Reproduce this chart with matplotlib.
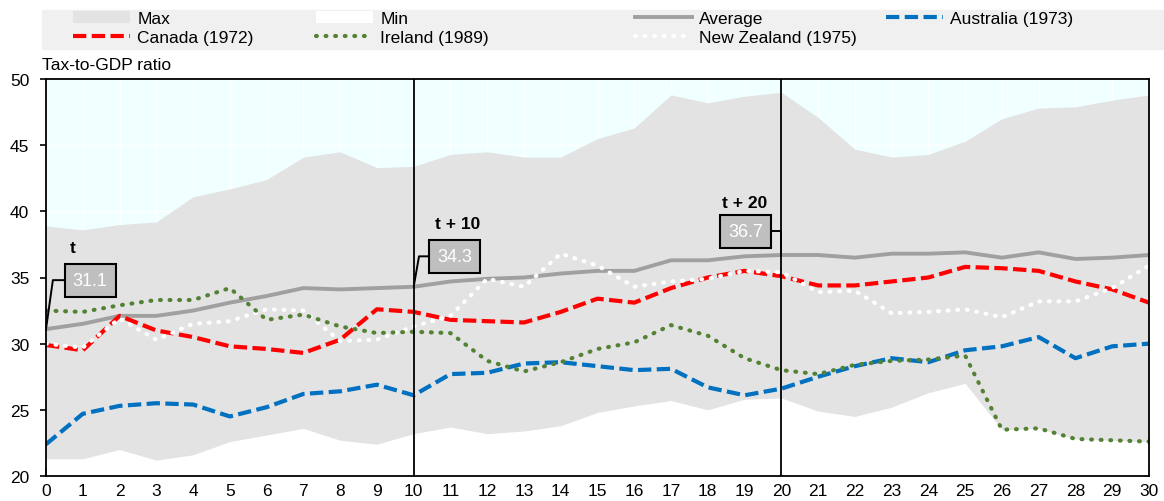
import matplotlib
matplotlib.use('Agg')
import matplotlib.pyplot as plt
from matplotlib import font_manager
from matplotlib.patches import Rectangle

# pick a narrow font if there is one
try:
    font_manager.findfont('Liberation Sans Narrow', fallback_to_default=False)
    family = 'Liberation Sans Narrow'
    fs = 14
except Exception:
    family = 'Liberation Sans'
    fs = 12.5
plt.rcParams['font.family'] = [family, 'DejaVu Sans']

# data
years = list(range(31))
max_vals = [38.9, 38.6, 39.0, 39.2, 41.1, 41.7, 42.4, 44.1, 44.5, 43.3, 43.4,
            44.3, 44.5, 44.1, 44.1, 45.5, 46.3, 48.8, 48.2, 48.7, 49.0,
            47.1, 44.7, 44.1, 44.3, 45.3, 47.0, 47.8, 47.9, 48.4, 48.8]
min_vals = [21.3, 21.3, 22.0, 21.2, 21.6, 22.6, 23.1, 23.6, 22.7, 22.4, 23.2,
            23.7, 23.2, 23.4, 23.8, 24.8, 25.3, 25.7, 25.0, 25.8, 25.9,
            24.9, 24.5, 25.2, 26.3, 27.0, 23.5, 23.6, 22.8, 22.7, 22.6]
average = [31.1, 31.5, 32.1, 32.1, 32.5, 33.1, 33.6, 34.2, 34.1, 34.2, 34.3,
           34.7, 34.9, 35.0, 35.3, 35.5, 35.5, 36.3, 36.3, 36.6, 36.7,
           36.7, 36.5, 36.8, 36.8, 36.9, 36.5, 36.9, 36.4, 36.5, 36.7]
australia = [22.4, 24.7, 25.3, 25.5, 25.4, 24.5, 25.2, 26.2, 26.4, 26.9, 26.1,
             27.7, 27.8, 28.5, 28.6, 28.3, 28.0, 28.1, 26.7, 26.1, 26.6,
             27.5, 28.3, 28.9, 28.6, 29.5, 29.8, 30.5, 28.9, 29.8, 30.0]
canada = [29.9, 29.5, 32.1, 31.0, 30.5, 29.8, 29.6, 29.3, 30.3, 32.6, 32.4,
          31.8, 31.7, 31.6, 32.4, 33.4, 33.1, 34.2, 35.0, 35.5, 35.1,
          34.4, 34.4, 34.7, 35.0, 35.8, 35.7, 35.5, 34.7, 34.1, 33.1]
ireland = [32.5, 32.4, 32.9, 33.3, 33.3, 34.2, 31.8, 32.2, 31.3, 30.8, 30.9,
           30.8, 28.7, 27.9, 28.6, 29.6, 30.1, 31.4, 30.6, 28.9, 28.0,
           27.7, 28.4, 28.7, 28.8, 29.1, 23.5, 23.6, 22.8, 22.7, 22.6]
new_zealand = [30.0, 29.7, 31.9, 30.3, 31.5, 31.7, 32.6, 32.5, 30.2, 30.3, 31.3,
               32.1, 34.9, 34.3, 36.8, 35.9, 34.3, 34.7, 34.9, 35.5, 35.4,
               33.9, 34.0, 32.3, 32.4, 32.6, 32.0, 33.2, 33.2, 34.2, 35.9]
marks = [0, 10, 20]
mark_labels = ['t', 't + 10', 't + 20']

W, H = 1164, 502
fig = plt.figure(figsize=(W / 100, H / 100), dpi=100)
ax = fig.add_axes([46 / W, 25 / H, (1149 - 46) / W, (477 - 80) / H])
ax.set_facecolor('#f0ffff')
ax.set_xlim(0, 30)
ax.set_ylim(20, 50)

h_max = ax.fill_between(years, max_vals, 20, color='#e3e3e3', lw=0, label='Max', zorder=1)
h_min = ax.fill_between(years, min_vals, 20, color='white', lw=0, label='Min', zorder=1.1)

dot = (0.2, 2.1)
h_avg, = ax.plot(years, average, color='#a0a0a0', lw=2.8, label='Average', zorder=3)
h_can, = ax.plot(years, canada, color='#ff0000', lw=3, dashes=(3.2, 1.3), label='Canada (1972)', zorder=3)
h_aus, = ax.plot(years, australia, color='#0070c0', lw=3, dashes=(3.2, 1.3), label='Australia (1973)', zorder=3)
h_ire, = ax.plot(years, ireland, color='#548235', lw=3, dashes=dot, dash_capstyle='round',
                 label='Ireland (1989)', zorder=3.2)
h_nz, = ax.plot(years, new_zealand, color='white', lw=3, dashes=dot, dash_capstyle='round',
                label='New Zealand (1975)', zorder=3.1)

for m in marks[1:]:
    ax.axvline(m, color='black', lw=1.3, zorder=4)

ax.set_axisbelow(True)
ax.grid(True, color='white', lw=1)
ax.set_xticks(years)
ax.set_yticks(range(20, 51, 5))
ax.tick_params(axis='x', direction='in', length=6, width=1.2, pad=5, labelsize=fs)
ax.tick_params(axis='y', direction='out', length=4, width=1.2, pad=8, labelsize=fs)
for s in ax.spines.values():
    s.set_linewidth(1.3)
    s.set_zorder(5)

# callouts for t, t+10, t+20
box_pos = [(1.2, 34.8), (11.12, 36.6), (19.02, 38.5)]
label_pos = [(0.73, 37.3), (11.2, 39.1), (19.0, 40.7)]
leader_angle = [82, 80, 90]
for m, lab, bp, lp, ang in zip(marks, mark_labels, box_pos, label_pos, leader_angle):
    ax.annotate(f'{average[m]:.1f}', xy=(m, average[m]), xytext=bp, textcoords='data',
                ha='center', va='center', color='white', fontsize=fs + 0.5, zorder=6,
                bbox=dict(boxstyle='square,pad=0.45', fc='#bfbfbf', ec='black', lw=1.5),
                arrowprops=dict(arrowstyle='-', color='black', lw=1.4, shrinkA=0, shrinkB=0,
                                connectionstyle=f'angle,angleA=0,angleB={ang},rad=0'))
    ax.text(lp[0], lp[1], lab, ha='center', va='center', fontsize=fs, fontweight='bold', zorder=6)

fig.text(42 / W, 1 - 66 / H, 'Tax-to-GDP ratio', ha='left', va='center', fontsize=fs)

# legend band + four columns
fig.patches.append(Rectangle((42 / W, 1 - 50 / H), 1 - 42 / W, 39 / H,
                             transform=fig.transFigure, color='#f0f0f0', zorder=0))
columns = [([h_max, h_can], 73), ([h_min, h_ire], 316), ([h_avg, h_nz], 635), ([h_aus], 886)]
for handles, x0 in columns:
    fig.legend(handles=handles, labels=[h.get_label() for h in handles],
               loc='upper left', bbox_to_anchor=(x0 / W, 1 - 12 / H), frameon=False,
               borderpad=0, borderaxespad=0, handlelength=3.3, handletextpad=0.4,
               labelspacing=0.23, fontsize=fs)

fig.savefig('out.png', dpi=100)
